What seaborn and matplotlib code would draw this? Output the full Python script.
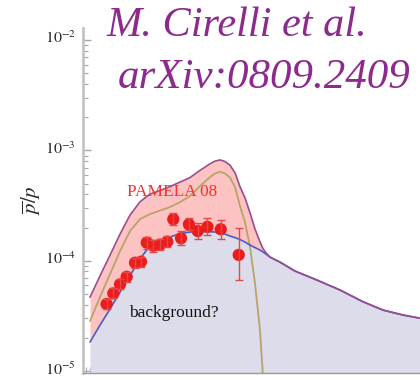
import numpy as np
import pandas as pd
import matplotlib
matplotlib.use("Agg")
import matplotlib.pyplot as plt
from matplotlib.transforms import ScaledTranslation
from matplotlib.ticker import LogLocator, NullFormatter, FixedLocator, FixedFormatter
import seaborn as sns

# Kinetic energy grid (GeV) shared by the model curves
energy = [1.00, 1.318, 1.736, 2.288, 3.013, 3.97, 5.23, 6.89, 9.08, 11.97,
          15.76, 20.76, 27.4, 31.4, 36.1, 41.4, 47.5, 54.5, 62.6, 71.8,
          82.4, 94.6, 108.6, 118.0, 128.0, 143.0, 188.0, 285.0, 523.0, 986.0,
          1860.0, 3230.0, 5610.0, 9460.0]

# Astrophysical background antiproton/proton ratio
background = [1.832e-5, 2.612e-5, 3.65e-5, 5.20e-5, 7.34e-5, 1.036e-4, 1.373e-4,
              1.477e-4, 1.640e-4, 1.764e-4, 1.821e-4, 1.840e-4, 1.832e-4, 1.821e-4,
              1.802e-4, 1.746e-4, 1.675e-4, 1.623e-4, 1.557e-4, 1.477e-4, 1.388e-4,
              1.317e-4, 1.250e-4, 1.199e-4, 1.150e-4, 1.080e-4, 9.73e-5, 8.07e-5,
              6.68e-5, 5.43e-5, 4.25e-5, 3.57e-5, 3.22e-5, 2.99e-5]

# Dark matter contribution
signal = [2.84e-5, 4.69e-5, 7.58e-5, 1.224e-4, 1.86e-4, 2.388e-4, 2.651e-4,
          2.852e-4, 3.069e-4, 3.405e-4, 3.86e-4, 4.76e-4, 5.74e-4, 6.19e-4,
          6.41e-4, 6.19e-4, 5.68e-4, 4.66e-4, 3.13e-4, 2.24e-4, 1.34e-4,
          6.24e-5, 2.35e-5, 8.8e-6, 3.0e-6, 0.0, 0.0, 0.0,
          0.0, 0.0, 0.0, 0.0, 0.0, 0.0]

# PAMELA 2008 measurements
pamela_energy = [1.58, 1.90, 2.29, 2.75, 3.46, 4.08, 4.78, 5.68, 6.89, 8.43,
                 9.94, 12.3, 15.3, 19.5, 25.5, 36.8, 60.4]
pamela_ratio = [4.05e-5, 5.06e-5, 6.11e-5, 7.16e-5, 9.6e-5, 9.8e-5, 1.46e-4,
                1.37e-4, 1.40e-4, 1.49e-4, 2.38e-4, 1.60e-4, 2.14e-4, 1.86e-4,
                2.03e-4, 1.93e-4, 1.13e-4]
pamela_err_up = [0.45e-5, 0.56e-5, 0.68e-5, 0.79e-5, 1.06e-5, 1.09e-5, 1.9e-5,
                 1.8e-5, 1.9e-5, 2.0e-5, 3.2e-5, 2.5e-5, 2.9e-5, 3.4e-5,
                 3.9e-5, 4.2e-5, 8.6e-5]
pamela_err_down = [0.40e-5, 0.50e-5, 0.60e-5, 0.71e-5, 0.95e-5, 0.97e-5, 1.7e-5,
                   1.6e-5, 1.6e-5, 1.7e-5, 2.8e-5, 2.2e-5, 2.5e-5, 2.9e-5,
                   3.3e-5, 3.5e-5, 4.6e-5]

y_ticks = [1e-5, 1e-4, 1e-3, 1e-2]
y_tick_labels = [r"$10^{-5}$", r"$10^{-4}$", r"$10^{-3}$", r"$10^{-2}$"]

sns.set_style("ticks")
plt.rcParams["font.family"] = ["Liberation Serif", "DejaVu Serif"]
plt.rcParams["mathtext.fontset"] = "stix"

models = pd.DataFrame({"energy": energy, "background": background, "signal": signal})
models["total"] = models["background"] + models["signal"]
sig = models[models["signal"] > 0]
points = pd.DataFrame({"energy": pamela_energy, "ratio": pamela_ratio})

fig = plt.figure(figsize=(4.2, 3.8), dpi=100)
ax = fig.add_axes([83 / 420, 7 / 380, 337 / 420, 345 / 380])
ax.set_xscale("log")
ax.set_yscale("log")
ax.set_xlim(0.824, 8960)
ax.set_ylim(9.6e-6, 1.29e-2)

floor = 1e-7
ax.fill_between(models["energy"], floor, models["background"], color="#dcdcea", lw=0, zorder=1)
ax.fill_between(models["energy"], models["background"], models["total"], color="#fdc2c2", lw=0, zorder=1)

sns.lineplot(data=sig, x="energy", y="signal", ax=ax, color="#b8a468", lw=1.3,
             sort=False, estimator=None, zorder=2)
sns.lineplot(data=models, x="energy", y="background", ax=ax, color="#4b5cc8", lw=1.2,
             sort=False, estimator=None, zorder=3)
sns.lineplot(data=models, x="energy", y="total", ax=ax, color="#9c4c8e", lw=1.2,
             sort=False, estimator=None, zorder=3)

sns.scatterplot(data=points, x="energy", y="ratio", ax=ax, color="#ec1c1c", s=78,
                edgecolor="none", zorder=4)
ax.errorbar(pamela_energy, pamela_ratio, yerr=[pamela_err_down, pamela_err_up],
            fmt="none", ecolor="#e24a4a", elinewidth=1.0, capsize=3, capthick=1.0, zorder=5)

ax.text(9.7, 4.2e-4, "PAMELA 08", color="#f5332b", fontsize=12.4,
        ha="center", va="center", zorder=6)
ax.text(10.0, 3.36e-5, "background?", color="#111111", fontsize=12.5,
        ha="center", va="center", zorder=6)

ax.set_xlabel("")
ax.set_ylabel(r"$\overline{p}/p$", fontsize=15, labelpad=1)

ax.yaxis.set_major_locator(FixedLocator(y_ticks))
ax.yaxis.set_major_formatter(FixedFormatter(y_tick_labels))
ax.yaxis.set_minor_locator(LogLocator(base=10, subs=np.arange(2, 10), numticks=20))
ax.yaxis.set_minor_formatter(NullFormatter())
ax.xaxis.set_major_locator(LogLocator(base=10, numticks=10))
ax.xaxis.set_minor_locator(LogLocator(base=10, subs=np.arange(2, 10), numticks=20))
ax.xaxis.set_major_formatter(NullFormatter())
ax.xaxis.set_minor_formatter(NullFormatter())

ax.tick_params(axis="both", which="both", direction="in", color="#a8a8a8")
ax.tick_params(axis="y", which="major", length=6, width=1.0, labelsize=11.5, pad=5)
ax.tick_params(axis="y", which="minor", length=3.5, width=0.8)
ax.tick_params(axis="x", which="major", length=4, width=0.9)
ax.tick_params(axis="x", which="minor", length=4, width=0.8)

# lift the decade labels a little so they sit on their ticks
lift = ScaledTranslation(0, 3 / 100, fig.dpi_scale_trans)
for lbl in ax.get_yticklabels():
    lbl.set_transform(lbl.get_transform() + lift)

for side in ("top", "right"):
    ax.spines[side].set_visible(False)
ax.spines["left"].set_color("#c4c4c4")
ax.spines["left"].set_linewidth(2.0)
ax.spines["bottom"].set_color("#9a9a9a")
ax.spines["bottom"].set_linewidth(1.0)

purple = "#8d2a8d"
fig.text(107 / 420, 1 - 36 / 380, "M. Cirelli et al.", color=purple, fontsize=30.5,
         style="italic", ha="left", va="baseline")
fig.text(118 / 420, 1 - 88 / 380, "arXiv:0809.2409", color=purple, fontsize=31,
         style="italic", ha="left", va="baseline")

fig.savefig("out.png", dpi=100)
